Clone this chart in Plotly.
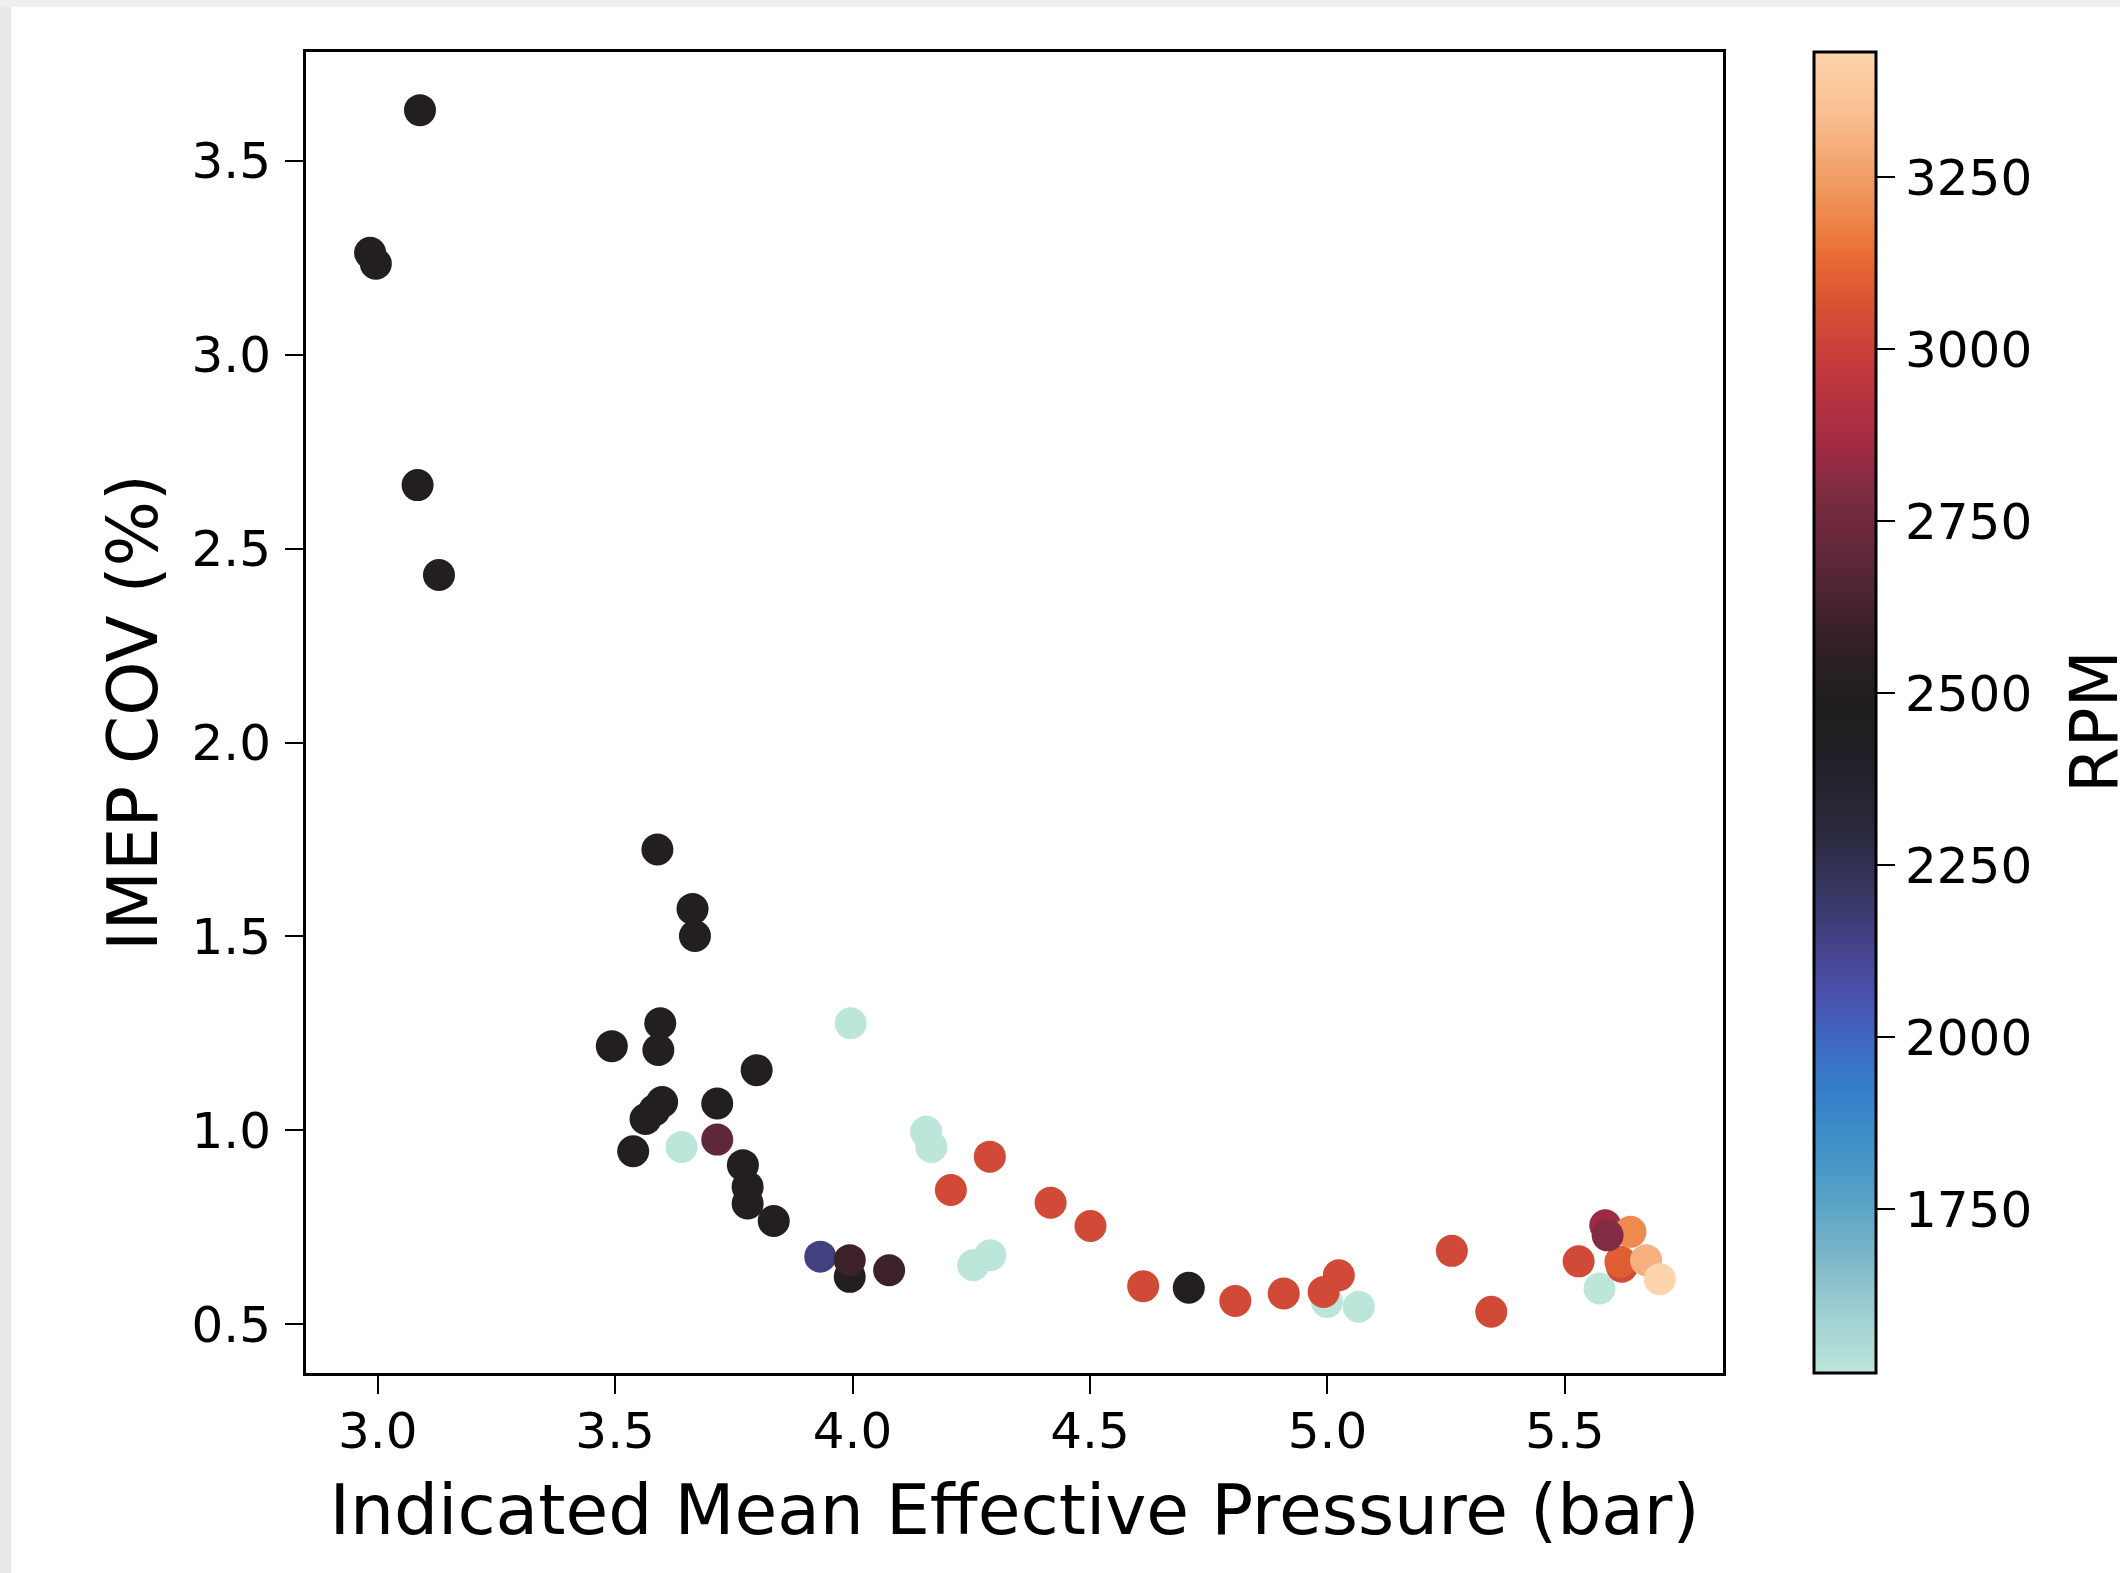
import plotly.graph_objects as go

# ---- data ----
imep = [3.089, 2.984, 2.996, 3.084, 3.129, 3.589, 3.663, 3.668, 3.595, 3.493,
        3.591, 3.798, 3.599, 3.583, 3.564, 3.715, 3.538, 3.640, 3.715, 3.769,
        3.779, 3.779, 3.834, 3.932, 3.994, 3.994, 4.077, 3.996, 4.155, 4.166,
        4.289, 4.207, 4.254, 4.290, 4.417, 4.501, 4.612, 4.708, 4.806, 4.908,
        4.999, 4.992, 5.024, 5.066, 5.262, 5.345, 5.529, 5.573, 5.620, 5.617,
        5.585, 5.638, 5.590, 5.671, 5.700]
cov = [3.631, 3.263, 3.235, 2.664, 2.432, 1.724, 1.571, 1.501, 1.276, 1.217,
       1.207, 1.155, 1.073, 1.052, 1.029, 1.069, 0.946, 0.957, 0.976, 0.910,
       0.854, 0.811, 0.766, 0.674, 0.622, 0.665, 0.639, 1.276, 0.996, 0.957,
       0.932, 0.846, 0.652, 0.678, 0.813, 0.753, 0.598, 0.594, 0.560, 0.579,
       0.557, 0.583, 0.626, 0.545, 0.689, 0.532, 0.662, 0.592, 0.648, 0.661,
       0.755, 0.738, 0.729, 0.665, 0.616]
rpm = [2500, 2500, 2500, 2500, 2500, 2500, 2500, 2500, 2500, 2500,
       2500, 2500, 2500, 2500, 2500, 2500, 2500, 1512, 2700, 2500,
       2500, 2500, 2500, 2150, 2500, 2600, 2600, 1512, 1512, 1512,
       3030, 3030, 1512, 1512, 3030, 3030, 3030, 2500, 3030, 3030,
       1512, 3030, 3030, 1512, 3030, 3030, 3030, 1512, 3030, 3100,
       2850, 3200, 2800, 3300, 3432]

x_ticks = [3.0, 3.5, 4.0, 4.5, 5.0, 5.5]
y_ticks = [0.5, 1.0, 1.5, 2.0, 2.5, 3.0, 3.5]
cb_ticks = [1750, 2000, 2250, 2500, 2750, 3000, 3250]

# icefire-like colour scale sampled from the reference colour bar
icefire = [
    [0.0, "#BDE6DA"], [0.053, "#98CBCF"], [0.093, "#76B4C8"], [0.133, "#55A1C6"],
    [0.174, "#4090C8"], [0.214, "#367ECA"], [0.255, "#3F66C0"], [0.285, "#4A52AE"],
    [0.323, "#45438A"], [0.366, "#363560"], [0.416, "#28283A"], [0.467, "#202026"],
    [0.507, "#201F1E"], [0.537, "#2A1F21"], [0.568, "#3D2128"], [0.618, "#5F2838"],
    [0.668, "#7E2C42"], [0.697, "#9E2A44"], [0.738, "#B6323F"], [0.773, "#C93F3B"],
    [0.808, "#D85233"], [0.839, "#E66633"], [0.859, "#EB7A3C"], [0.899, "#F09A60"],
    [0.950, "#F8BD8E"], [1.0, "#FDD5AC"],
]

W, H = 2120, 1573
L, R, T, B = 306, 1723, 52, 1373
pw, ph = R - L, B - T


def px_x(p):
    return (p - L) / pw


def px_y(p):
    return (B - p) / ph


FONT = "DejaVu Sans"
TICK_SIZE = 50

fig = go.Figure()
fig.add_trace(go.Scatter(
    x=imep, y=cov, mode="markers",
    marker=dict(
        size=32, color=rpm, colorscale=icefire, cmin=1512, cmax=3432,
        line=dict(width=0), opacity=1,
        colorbar=dict(
            thickness=62, thicknessmode="pixels",
            len=1, lenmode="fraction", y=0.5, yanchor="middle", ypad=0,
            x=px_x(1814), xanchor="left", xpad=0,
            outlinewidth=3, outlinecolor="black",
            ticks="outside", ticklen=18, tickwidth=2, tickcolor="black",
            tickvals=cb_ticks, ticktext=[str(v) for v in cb_ticks],
            tickfont=dict(family=FONT, size=TICK_SIZE, color="black"),
        ),
    ),
    showlegend=False,
    hoverinfo="x+y",
))

axis_common = dict(
    showline=True, mirror=True, linecolor="black", linewidth=3,
    ticks="outside", ticklen=18, tickwidth=2, tickcolor="black",
    showgrid=False, zeroline=False,
    tickfont=dict(family=FONT, size=TICK_SIZE, color="black"),
)

fig.update_layout(
    width=W, height=H, autosize=False,
    margin=dict(l=L, r=W - R, t=T, b=H - B, pad=0),
    paper_bgcolor="white", plot_bgcolor="white",
    xaxis=dict(range=[2.849, 5.833], tickvals=x_ticks,
               ticktext=[f"{v:.1f}" for v in x_ticks],
               ticklabelstandoff=-6,
               title=dict(text="Indicated Mean Effective Pressure (bar)",
                          font=dict(family=FONT, size=69.5, color="black"),
                          standoff=27),
               **axis_common),
    yaxis=dict(range=[0.374, 3.781], tickvals=y_ticks,
               ticktext=[f"{v:.1f}" for v in y_ticks],
               ticklabelstandoff=4,
               title=dict(text="IMEP COV (%)",
                          font=dict(family=FONT, size=69, color="black"),
                          standoff=12),
               **axis_common),
    annotations=[dict(
        text="RPM", textangle=-90, showarrow=False,
        xref="paper", yref="paper", x=px_x(2094), y=px_y(722),
        xanchor="center", yanchor="middle",
        font=dict(family=FONT, size=66, color="black"),
    )],
    shapes=[
        dict(type="rect", xref="paper", yref="paper", layer="below",
             x0=px_x(0), x1=px_x(11), y0=px_y(H), y1=px_y(0),
             fillcolor="#E9E9E9", line=dict(width=0)),
        dict(type="rect", xref="paper", yref="paper", layer="below",
             x0=px_x(0), x1=px_x(W), y0=px_y(7), y1=px_y(0),
             fillcolor="#EFEFEF", line=dict(width=0)),
    ],
)

fig.write_html("out.html")
